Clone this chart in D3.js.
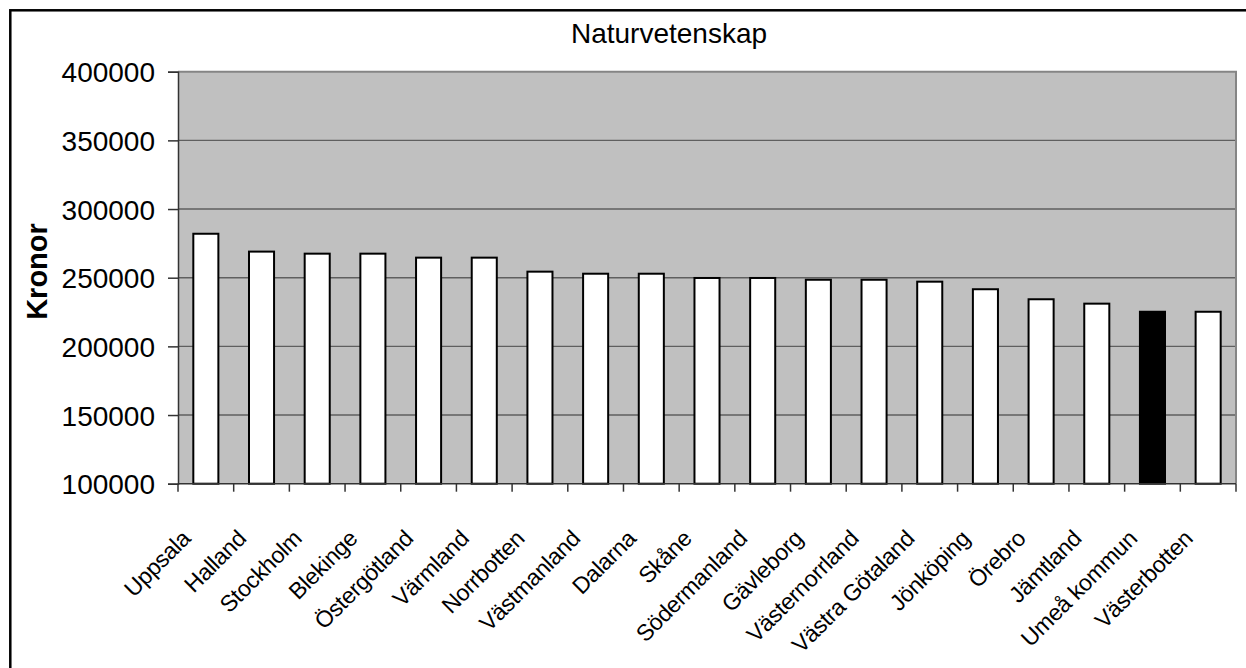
<!DOCTYPE html>
<html>
<head>
<meta charset="utf-8">
<script src="https://cdn.jsdelivr.net/npm/d3@7"></script>
<style>
  html, body { margin: 0; padding: 0; background: #ffffff; }
  svg { display: block; }
  text { font-family: "Liberation Sans", Arial, sans-serif; fill: #000; }
</style>
</head>
<body>
<svg id="chart" width="1246" height="668"></svg>
<script>
const categories = ["Uppsala", "Halland", "Stockholm", "Blekinge", "Östergötland", "Värmland",
  "Norrbotten", "Västmanland", "Dalarna", "Skåne", "Södermanland", "Gävleborg",
  "Västernorrland", "Västra Götaland", "Jönköping", "Örebro", "Jämtland", "Umeå kommun", "Västerbotten"];
const values = [282000, 269000, 267500, 267500, 264600, 264600,
  254400, 252900, 252900, 249800, 249800, 248500,
  248500, 247100, 241600, 234300, 231100, 225200, 225200];
const highlight = ["Umeå kommun"];
const yTicks = [100000, 150000, 200000, 250000, 300000, 350000, 400000];
const chartTitle = "Naturvetenskap";
const yTitle = "Kronor";

(function () {
const svg = d3.select("#chart");
const W = 1246, H = 668;
const pLeft = 178, pRight = 1236, pTop = 71.7, pBottom = 483.7;

svg.append("rect").attr("width", W).attr("height", H).attr("fill", "#fff");

// outer chart border (extends beyond the view on right/bottom)
svg.append("rect")
  .attr("x", 10.3).attr("y", 10.3).attr("width", W + 50).attr("height", H + 50)
  .attr("fill", "none").attr("stroke", "#000").attr("stroke-width", 2.5);

const x = d3.scaleBand().domain(categories).range([pLeft, pRight])
  .paddingInner(0.55).paddingOuter(0.275);
const y = d3.scaleLinear().domain([100000, 400000]).range([pBottom, pTop]);

// plot area background
svg.append("rect")
  .attr("x", pLeft).attr("y", pTop).attr("width", pRight - pLeft).attr("height", pBottom - pTop)
  .attr("fill", "#c0c0c0");

// gridlines
svg.append("g").selectAll("line").data(yTicks.filter(d => d > 100000 && d < 400000)).join("line")
  .attr("x1", pLeft).attr("x2", pRight)
  .attr("y1", d => y(d)).attr("y2", d => y(d))
  .attr("stroke", "#5f5f5f").attr("stroke-width", 1.4);

// plot border top/right
svg.append("path")
  .attr("d", `M${pLeft},${pTop}H${pRight}V${pBottom}`)
  .attr("fill", "none").attr("stroke", "#858585").attr("stroke-width", 2);

// bars
svg.append("g").selectAll("rect").data(categories).join("rect")
  .attr("x", d => x(d))
  .attr("width", x.bandwidth())
  .attr("y", (d, i) => y(values[i]))
  .attr("height", (d, i) => y(100000) - y(values[i]))
  .attr("fill", d => highlight.includes(d) ? "#000" : "#fff")
  .attr("stroke", "#000").attr("stroke-width", 2);

// y axis
const yAxis = d3.axisLeft(y).tickValues(yTicks).tickSize(10).tickPadding(12)
  .tickFormat(d3.format("d"));
const gy = svg.append("g").attr("transform", `translate(${pLeft},0)`).call(yAxis);
gy.select(".domain").attr("stroke", "#333").attr("stroke-width", 1.5);
gy.selectAll(".tick line").attr("stroke", "#333").attr("stroke-width", 1.5);
gy.selectAll(".tick text")
  .attr("font-family", "Liberation Sans, Arial, sans-serif")
  .attr("font-size", 28).attr("fill", "#000")
  .attr("x", -23).attr("dy", "0.36em");

// x axis: ticks at category boundaries
const step = x.step();
const boundaries = d3.range(categories.length + 1).map(i => pLeft + i * step);
svg.append("line").attr("x1", pLeft).attr("x2", pRight).attr("y1", pBottom).attr("y2", pBottom)
  .attr("stroke", "#333").attr("stroke-width", 1.5);
svg.append("g").selectAll("line").data(boundaries).join("line")
  .attr("x1", d => d).attr("x2", d => d)
  .attr("y1", pBottom).attr("y2", pBottom + 8)
  .attr("stroke", "#333").attr("stroke-width", 1.5);

// category labels
svg.append("g").selectAll("text").data(categories).join("text")
  .attr("transform", d => `translate(${x(d) + x.bandwidth() / 2 - 14},540) rotate(-45)`)
  .attr("text-anchor", "end")
  .attr("font-size", 23)
  .attr("letter-spacing", "-0.3px")
  .text(d => d);

// title
svg.append("text").attr("x", 669).attr("y", 43.3).attr("text-anchor", "middle")
  .attr("font-size", 28).text(chartTitle);

// y title
svg.append("text")
  .attr("transform", "translate(46.5,271.5) rotate(-90)")
  .attr("text-anchor", "middle").attr("font-size", 29).attr("font-weight", "bold")
  .text(yTitle);
})();
</script>
</body>
</html>
